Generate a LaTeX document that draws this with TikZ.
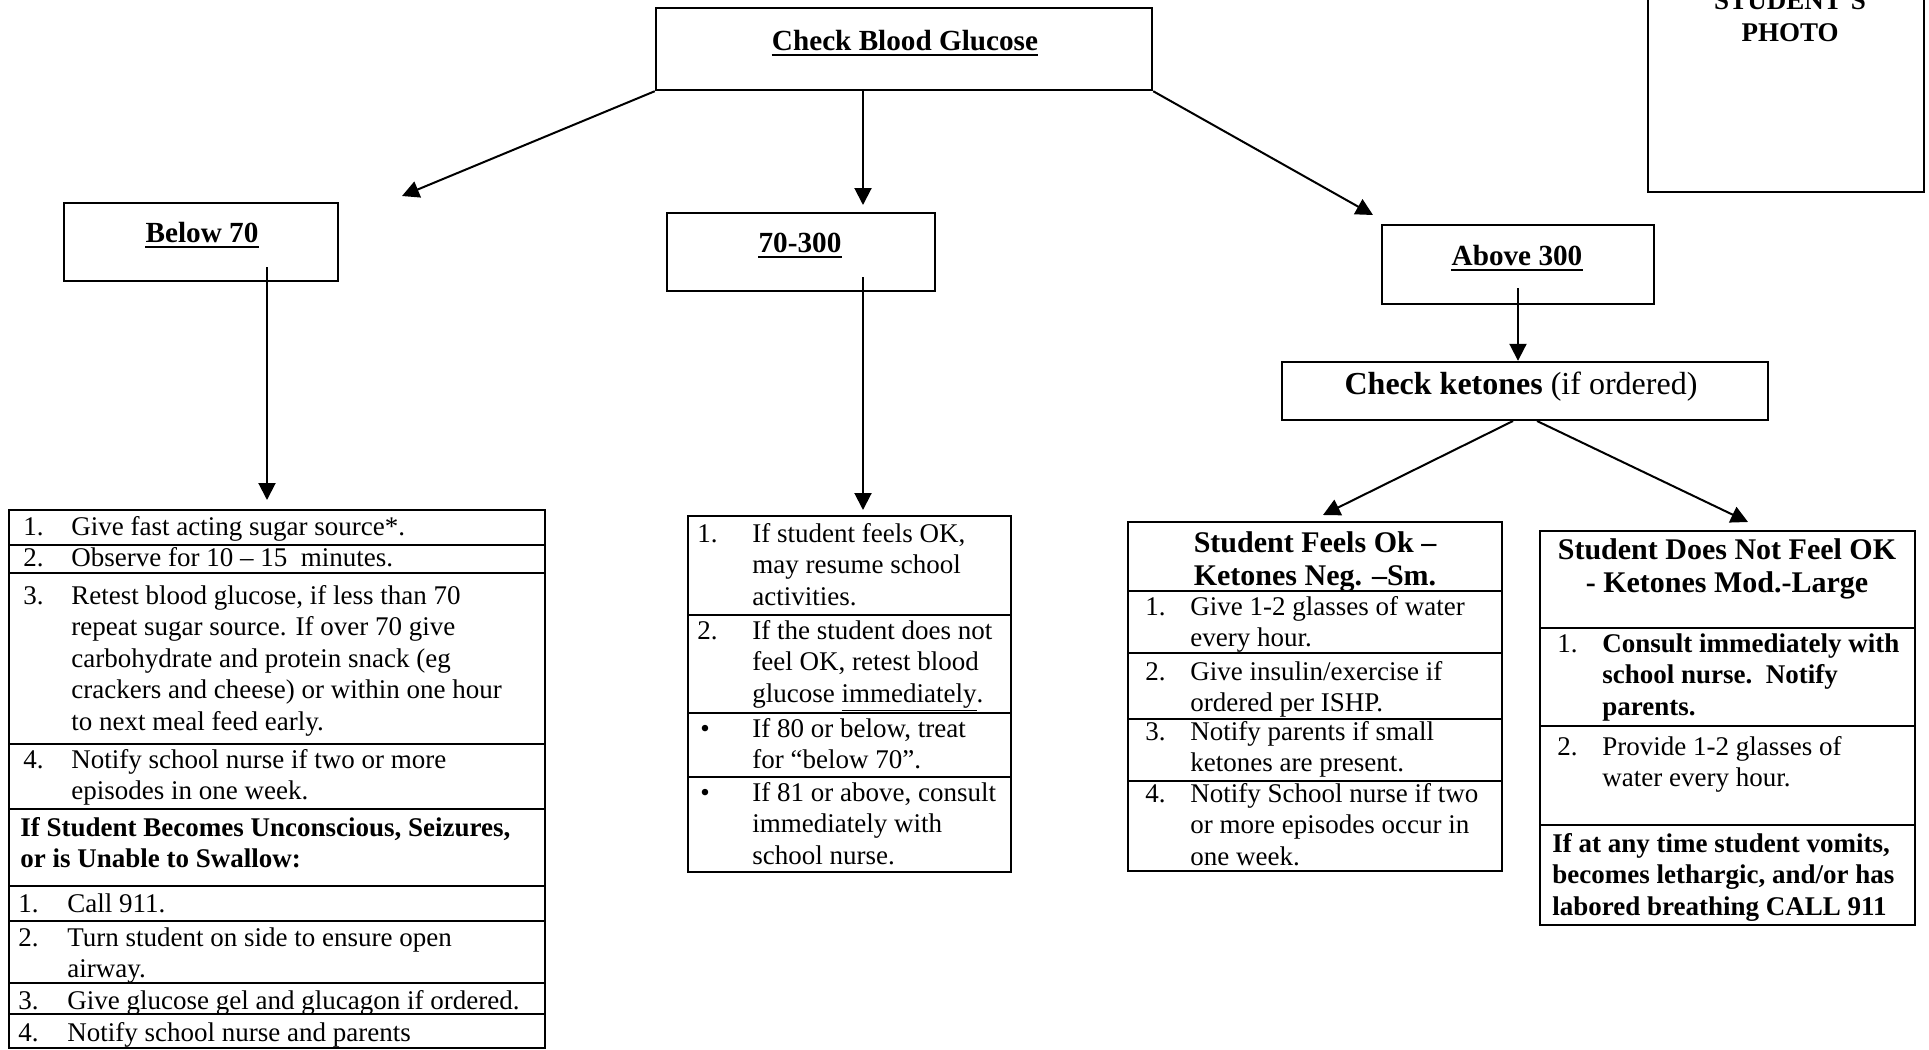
\documentclass[tikz,border=0pt]{standalone}
\usepackage{fontspec}
\setmainfont{Liberation Serif}
\usetikzlibrary{arrows.meta,fit}
\newcommand\bodyf{\fontsize{13.5}{15.75}\selectfont}
\newcommand\titlef{\fontsize{14.6}{17}\selectfont\bfseries}
\newcommand\headf{\fontsize{15}{16.5}\selectfont\bfseries}
\newcommand\ketf{\fontsize{16}{19}\selectfont}
\newcommand\mylines[1]{\begin{tabular}[t]{@{}l@{}}#1\end{tabular}}
\newcommand\myclines[1]{\begin{tabular}[t]{@{}c@{}}#1\end{tabular}}
\begin{document}
\begin{tikzpicture}[x=0.5pt,y=-0.5pt,
  boxf/.style={draw,line width=1.2pt,inner sep=0pt},
  rowline/.style={line width=1pt},
  arr/.style={line width=1pt,-{Triangle[length=8.5pt,width=8.5pt]}},
  txt/.style={anchor=base west,inner sep=0pt,font=\bodyf},
  num/.style={anchor=base west,inner sep=0pt,font=\bodyf},
  ttl/.style={anchor=base,inner sep=0pt,font=\titlef},
  hdr/.style={anchor=base,inner sep=0pt,font=\headf},
  uline/.style={line width=0.9pt}
]
\useasboundingbox (0,0) rectangle (1929,1050);

% ---------- top boxes ----------
\node[boxf,fit={(656,8)(1152,90)}] (cbg) {};
\node[ttl] (cbgT) at (905,50) {Check Blood Glucose};
\draw[uline] ([yshift=-2.5pt]cbgT.base west) -- ([yshift=-2.5pt]cbgT.base east);

\node[boxf,fit={(1648,-10)(1924,192)}] (photo) {};
\node[anchor=base,inner sep=0pt,font=\fontsize{13.5}{16}\selectfont\bfseries] (photoA) at (1790,9) {STUDENT’S};
\node[anchor=base,inner sep=0pt,font=\fontsize{13.5}{16}\selectfont\bfseries] (photoB) at (1790,41) {PHOTO};

\node[boxf,fit={(64,203)(338,281)}] (b70) {};
\node[ttl] (b70T) at (202,242) {Below 70};
\draw[uline] ([yshift=-2.5pt]b70T.base west) -- ([yshift=-2.5pt]b70T.base east);

\node[boxf,fit={(667,213)(935,291)}] (mid) {};
\node[ttl] (midT) at (800,252) {70-300};
\draw[uline] ([yshift=-2.5pt]midT.base west) -- ([yshift=-2.5pt]midT.base east);

\node[boxf,fit={(1382,225)(1654,304)}] (a300) {};
\node[ttl] (a300T) at (1517,265) {Above 300};
\draw[uline] ([yshift=-2.5pt]a300T.base west) -- ([yshift=-2.5pt]a300T.base east);

\node[boxf,fit={(1282,362)(1768,420)}] (ck) {};
\node[anchor=base,inner sep=0pt,font=\ketf] (ckT) at (1521,394) {\textbf{Check ketones} (if ordered)};

% ---------- left table ----------
\node[boxf,fit={(9,510)(545,1048)}] (tl) {};
\foreach \yy in {545,573,744,809,886,921,983,1014}
  \draw[rowline] (9,\yy) -- (545,\yy);
\node[num] (tl1n) at (23,535) {1.};
\node[txt] (tl1) at (71,535) {Give fast acting sugar source*.};
\node[num] (tl2n) at (23,566) {2.};
\node[txt] (tl2) at (71,566) {Observe for 10 – 15\ \ minutes.};
\node[num] (tl3n) at (23,604) {3.};
\node[txt] (tl3) at (71,604) {\mylines{Retest blood glucose, if less than 70\\repeat sugar source. If over 70 give\\carbohydrate and protein snack (eg\\crackers and cheese) or within one hour\\to next meal feed early.}};
\node[num] (tl4n) at (23,768) {4.};
\node[txt] (tl4) at (71,768) {\mylines{Notify school nurse if two or more\\episodes in one week.}};
\node[txt,font=\bodyf\bfseries] (tl5) at (20,836) {\mylines{If Student Becomes Unconscious, Seizures,\\or is Unable to Swallow:}};
\node[num] (tl6n) at (18,912) {1.};
\node[txt] (tl6) at (67,912) {Call 911.};
\node[num] (tl7n) at (18,946) {2.};
\node[txt] (tl7) at (67,946) {\mylines{Turn student on side to ensure open\\airway.}};
\node[num] (tl8n) at (18,1009) {3.};
\node[txt] (tl8) at (67,1009) {Give glucose gel and glucagon if ordered.};
\node[num] (tl9n) at (18,1041) {4.};
\node[txt] (tl9) at (67,1041) {Notify school nurse and parents};

% ---------- middle table ----------
\node[boxf,fit={(688,516)(1011,872)}] (tm) {};
\foreach \yy in {615,713,777}
  \draw[rowline] (688,\yy) -- (1011,\yy);
\node[num] (tm1n) at (697,542) {1.};
\node[txt] (tm1) at (752,542) {\mylines{If student feels OK,\\may resume school\\activities.}};
\node[num] (tm2n) at (697,639) {2.};
\node[txt] (tm2) at (752,639) {\mylines{If the student does not\\feel OK, retest blood\\glucose \underline{immediately}.}};
\node[num] (tm3n) at (700,737) {•};
\node[txt] (tm3) at (752,737) {\mylines{If 80 or below, treat\\for “below 70”.}};
\node[num] (tm4n) at (700,801) {•};
\node[txt] (tm4) at (752,801) {\mylines{If 81 or above, consult\\immediately with\\school nurse.}};

% ---------- ketones OK table ----------
\node[boxf,fit={(1128,522)(1502,871)}] (tk1) {};
\foreach \yy in {591,653,719,781}
  \draw[rowline] (1128,\yy) -- (1502,\yy);
\node[hdr] (tk1h) at (1315,552) {\myclines{Student Feels Ok –\\Ketones Neg. –Sm.}};
\node[num] (tk11n) at (1145,615) {1.};
\node[txt] (tk11) at (1190,615) {\mylines{Give 1-2 glasses of water\\every hour.}};
\node[num] (tk12n) at (1145,680) {2.};
\node[txt] (tk12) at (1190,680) {\mylines{Give insulin/exercise if\\ordered per ISHP.}};
\node[num] (tk13n) at (1145,740) {3.};
\node[txt] (tk13) at (1190,740) {\mylines{Notify parents if small\\ketones are present.}};
\node[num] (tk14n) at (1145,802) {4.};
\node[txt] (tk14) at (1190,802) {\mylines{Notify School nurse if two\\or more episodes occur in\\one week.}};

% ---------- ketones not OK table ----------
\node[boxf,fit={(1540,531)(1915,925)}] (tk2) {};
\foreach \yy in {628,726,825}
  \draw[rowline] (1540,\yy) -- (1915,\yy);
\node[hdr] (tk2h) at (1727,559) {\myclines{Student Does Not Feel OK\\- Ketones Mod.-Large}};
\node[num] (tk21n) at (1557,652) {1.};
\node[txt,font=\bodyf\bfseries] (tk21) at (1602,652) {\mylines{Consult immediately with\\school nurse.\ \ Notify\\parents.}};
\node[num] (tk22n) at (1557,755) {2.};
\node[txt] (tk22) at (1602,755) {\mylines{Provide 1-2 glasses of\\water every hour.}};
\node[txt,font=\bodyf\bfseries] (tk23) at (1552,852) {\mylines{If at any time student vomits,\\becomes lethargic, and/or has\\labored breathing CALL 911}};

% ---------- connectors ----------
\coordinate (e1) at (402,196);
\coordinate (s2) at (863,90);
\coordinate (e2) at (863,205);
\coordinate (e3) at (1373,215);
\coordinate (s4) at (267,267);
\coordinate (s5) at (863,277);
\coordinate (s6) at (1518,288);
\coordinate (s7) at (1513,421);
\coordinate (e7) at (1323,515);
\coordinate (s8) at (1537,421);
\coordinate (e8) at (1748,522);

\draw[arr] (cbg.south west) -- (e1);
\draw[arr] (s2) -- (e2);
\draw[arr] (cbg.south east) -- (e3);
\draw[arr] (s4) -- (s4 |- 0,500);
\draw[arr] (s5) -- (s5 |- 0,510);
\draw[arr] (s6) -- (s6 |- ck.north);
\draw[arr] (s7) -- (e7);
\draw[arr] (s8) -- (e8);
\end{tikzpicture}
\end{document}
